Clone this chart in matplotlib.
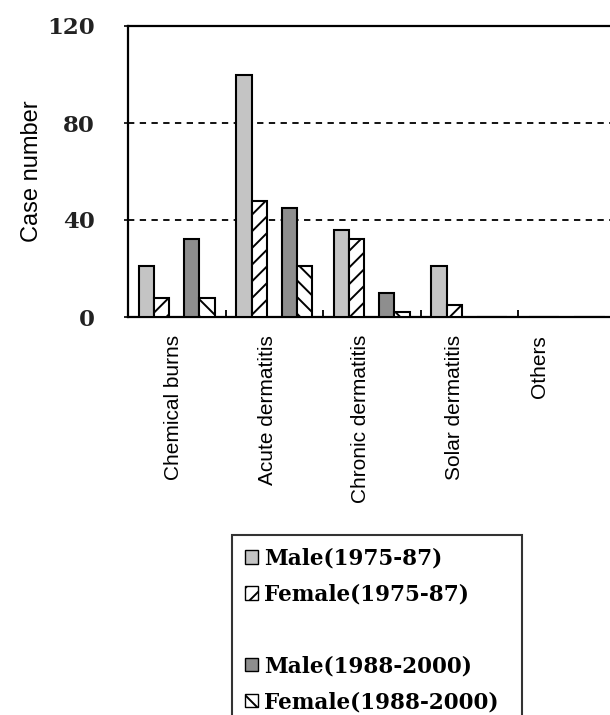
import numpy as np
import matplotlib
matplotlib.use("Agg")
import matplotlib.pyplot as plt
from matplotlib.patches import Rectangle
from matplotlib.transforms import ScaledTranslation

categories = ["Chemical burns", "Acute dermatitis", "Chronic dermatitis",
              "Solar dermatitis", "Others"]
male_75 = [21, 100, 36, 21, 0]
female_75 = [8, 48, 32, 5, 0]
male_88 = [32, 45, 10, 0, 0]
female_88 = [8, 21, 2, 0, 0]

series_labels = ["Male(1975-87)", "Female(1975-87)",
                 "Male(1988-2000)", "Female(1988-2000)"]
y_ticks = [0, 40, 80, 120]

plt.rcParams["hatch.color"] = "black"
plt.rcParams["hatch.linewidth"] = 1.4

fig = plt.figure(figsize=(6.1, 7.15), dpi=100)
ax = fig.add_axes([128 / 610, 1 - 317 / 715, 487.5 / 610, 291 / 715])

x = np.arange(len(categories))
w = 0.155
bar_kw = dict(width=w, edgecolor="black", linewidth=1.5, zorder=3)
ax.bar(x - 2 * w, male_75, color="#c4c4c4", **bar_kw)
ax.bar(x - w, female_75, color="white", hatch="//", **bar_kw)
ax.bar(x + w, male_88, color="#8e8e8e", **bar_kw)
ax.bar(x + 2 * w, female_88, color="white", hatch="\\\\", **bar_kw)

# dashed reference lines behind the bars
for yv in y_ticks[1:-1]:
    ax.axhline(yv, color="black", linewidth=1.3, linestyle=(0, (3.5, 3)),
               zorder=1)

ax.set_xlim(-0.5, len(categories) - 0.5)
ax.set_ylim(0, 120)
ax.set_yticks(y_ticks)
ax.set_yticklabels([str(v) for v in y_ticks], fontfamily="DejaVu Serif",
                   fontweight="bold", fontsize=16.5, color="#222222")
ax.tick_params(axis="y", direction="out", length=3, width=1.2, pad=21)

ax.set_xticks(x)
ax.set_xticklabels(categories, rotation=90, fontfamily="Liberation Sans",
                   fontsize=15, va="top")
ax.tick_params(axis="x", which="major", length=0, pad=13)
ax.set_xticks(x[:-1] + 0.5, minor=True)
ax.tick_params(axis="x", which="minor", direction="in", length=5, width=1.3)

# category names sit a little left of their groups, more so to the right
shifts_px = [-3, -7, -11, -15, -27]
for lbl, dx in zip(ax.get_xticklabels(), shifts_px):
    lbl.set_transform(lbl.get_transform()
                      + ScaledTranslation(dx / 100, 0, fig.dpi_scale_trans))

for side in ax.spines.values():
    side.set_linewidth(1.6)

ax.set_ylabel("Case number", fontfamily="Liberation Sans", fontsize=17)
ax.yaxis.set_label_coords(-0.174, 0.5)

handles = [
    Rectangle((0, 0), 1, 1, facecolor="#c4c4c4", edgecolor="black", lw=1),
    Rectangle((0, 0), 1, 1, facecolor="white", edgecolor="black", lw=1,
              hatch="//"),
    Rectangle((0, 0), 1, 1, visible=False),
    Rectangle((0, 0), 1, 1, facecolor="#8e8e8e", edgecolor="black", lw=1),
    Rectangle((0, 0), 1, 1, facecolor="white", edgecolor="black", lw=1,
              hatch="\\\\"),
]
labels = [series_labels[0], series_labels[1], " ",
          series_labels[2], series_labels[3]]
leg = fig.legend(handles, labels, loc="upper left",
                 bbox_to_anchor=(232 / 610, 1 - 535 / 715 - 0.01, 290 / 610, 0.01),
                 mode="expand", frameon=True, fancybox=False,
                 prop={"family": "DejaVu Serif", "weight": "bold", "size": 15.5},
                 handlelength=0.6, handleheight=0.6, handletextpad=0.3,
                 labelspacing=0.64, borderpad=0.6, borderaxespad=0)
leg.get_frame().set_edgecolor("black")
leg.get_frame().set_linewidth(1.5)

fig.savefig("out.png", dpi=100)
